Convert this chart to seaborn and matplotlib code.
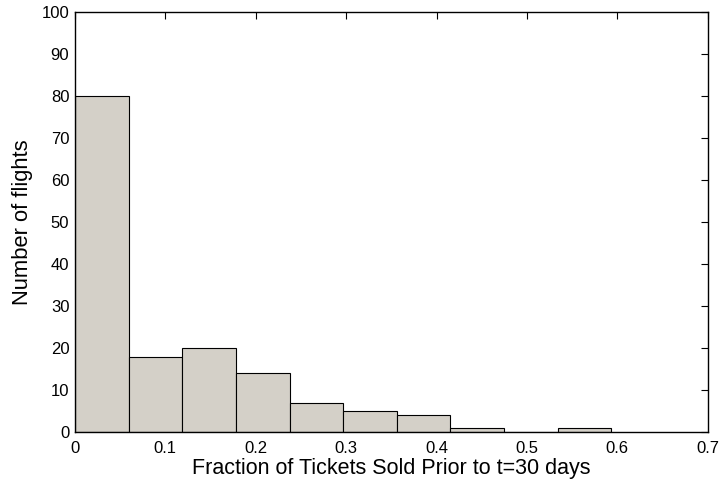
import numpy as np
import pandas as pd
import matplotlib
matplotlib.use("Agg")
import matplotlib.pyplot as plt
import seaborn as sns

# Data
bin_range = (0.0, 0.5935)
n_bins = 10
counts = [80, 18, 20, 14, 7, 5, 4, 1, 0, 1]
x_ticks = [0, 0.1, 0.2, 0.3, 0.4, 0.5, 0.6, 0.7]
x_tick_labels = ["0", "0.1", "0.2", "0.3", "0.4", "0.5", "0.6", "0.7"]
y_ticks = list(range(0, 101, 10))

edges = np.linspace(bin_range[0], bin_range[1], n_bins + 1)
centers = (edges[:-1] + edges[1:]) / 2
df = pd.DataFrame({"fraction": centers, "n": counts})

sns.set_style("white")
plt.rcParams["font.family"] = ["Liberation Sans", "DejaVu Sans"]
plt.rcParams["text.color"] = "black"
plt.rcParams["axes.labelcolor"] = "black"

fig = plt.figure(figsize=(7.2, 4.84), dpi=100)
ax = fig.add_axes([0.104, 0.107, 0.879, 0.868])

sns.histplot(data=df, x="fraction", weights="n", bins=n_bins, binrange=bin_range,
             ax=ax, color="#d4d0c8", alpha=1.0, edgecolor="black", linewidth=0.8)

ax.set_xlim(0, 0.7)
ax.set_ylim(0, 100)
ax.set_xticks(x_ticks)
ax.set_xticklabels(x_tick_labels)
ax.set_yticks(y_ticks)
ax.tick_params(direction="in", length=5, width=0.8, top=True, right=True,
               labelsize=12, colors="black")
ax.tick_params(axis="x", pad=6)
ax.tick_params(axis="y", pad=4)
for s in ax.spines.values():
    s.set_visible(True)
    s.set_color("black")
    s.set_linewidth(1.0)
ax.set_xlabel("Fraction of Tickets Sold Prior to t=30 days", fontsize=15.5,
              labelpad=2, color="black")
ax.set_ylabel("Number of flights", fontsize=15.8, labelpad=6, color="black")

fig.savefig("out.png", dpi=100)
